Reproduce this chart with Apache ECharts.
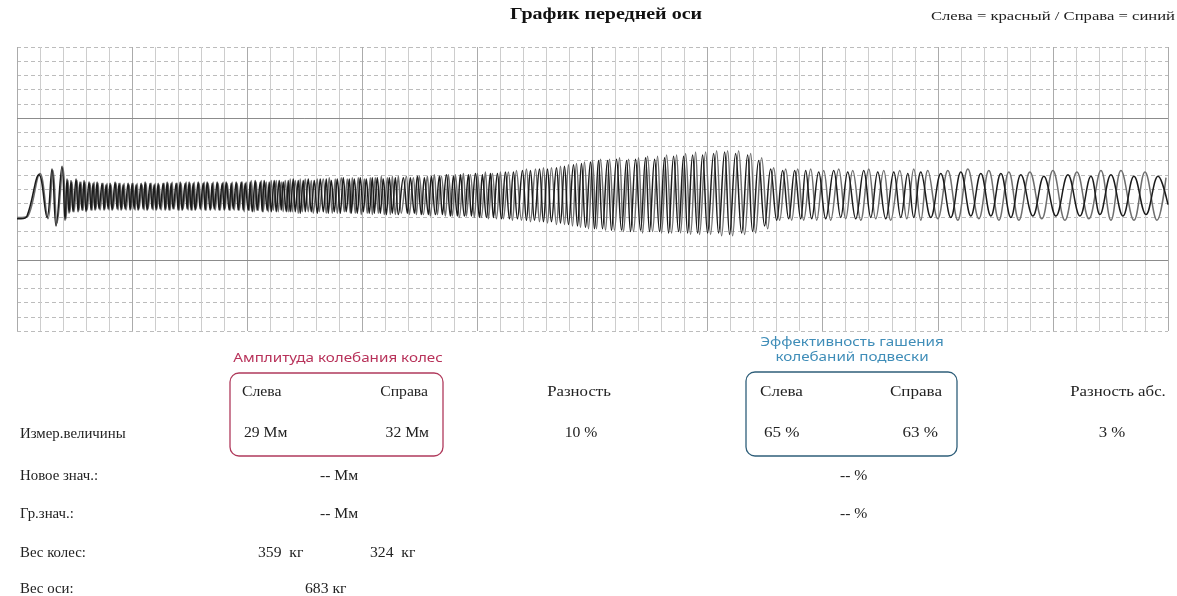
<!DOCTYPE html>
<html>
<head>
<meta charset="utf-8">
<script src="https://cdn.jsdelivr.net/npm/echarts@6/dist/echarts.min.js"></script>
<style>
  html, body { margin: 0; padding: 0; background: #fff; }
  #frontAxle { width: 1177px; height: 596px; }
</style>
</head>
<body>
<div id="frontAxle"></div>
<script>
// turning points of the traces, [time, amplitude]
const leftWheel = [
  [0,-21],[4,-21],[10,-19],[22,10],[30,-20],[35,14],[39,-26],[45,16],[48,-22],
  [50,7],[52,-17],[54,6],[56,-16],[59,7],[61,-16],[63,5],[65,-15],[67,6],[69,-16],
  [72,5],[74,-15],[76,4],[78,-15],[80,5],[82,-14],[85,4],[87,-15],[89,3],[91,-14],
  [93,4],[95,-15],[98,5],[100,-14],[102,4],[104,-15],[106,3],[108,-14],[111,4],[113,-15],
  [115,4],[117,-14],[119,3],[121,-15],[124,4],[126,-14],[128,5],[130,-15],[133,4],[135,-14],
  [137,3],[139,-15],[141,4],[143,-14],[146,4],[148,-15],[150,5],[152,-15],[154,4],[156,-14],
  [159,4],[161,-15],[163,5],[165,-15],[168,4],[170,-14],[172,5],[174,-15],[176,4],[178,-15],
  [181,5],[183,-14],
  [186,4],[188,-15],[190,5],[193,-15],[195,4],[197,-14],[200,5],[202,-15],[205,4],[207,-15],
  [209,5],[212,-15],[214,4],[216,-14],[219,5],[221,-15],[224,5],[226,-15],[228,4],[231,-15],
  [233,5],[235,-16],[238,6],[240,-15],[243,5],[245,-16],[247,6],[250,-15],[252,5],[254,-16],
  [257,6],[259,-16],[262,6],[264,-15],[266,5],[269,-16],[271,6],[273,-16],[276,7],[278,-16],
  [281,6],[283,-17],
  [286,6],[288,-16],[291,7],[294,-16],[297,6],[300,-17],[303,7],[306,-16],[309,7],[311,-17],
  [314,6],[317,-16],[320,7],[323,-17],[326,8],[329,-16],[332,7],[334,-17],[337,7],[340,-17],
  [343,8],[346,-16],[349,7],[352,-17],[355,8],[357,-17],[360,8],[363,-17],[366,7],[369,-18],
  [372,8],[375,-17],[378,8],[381,-18],
  [386,8],[390,-17],[393,8],[397,-17],[400,9],[404,-18],[407,8],[411,-18],[414,9],[418,-18],
  [422,9],[425,-18],[429,10],[433,-19],[436,9],[440,-19],[443,10],[447,-19],[451,10],[454,-19],
  [458,11],[462,-20],[465,10],[469,-20],[473,11],[476,-20],[480,11],[484,-21],
  [488,12],[492,-21],[496,12],[500,-21],[505,13],[509,-22],[513,13],[517,-22],[522,14],[526,-23],
  [530,14],[534,-23],[539,15],[543,-24],[547,16],[551,-25],[556,17],[560,-26],[564,18],[568,-27],
  [573,19],[577,-28],[581,20],[585,-28],
  [590,20],[594,-29],[599,21],[604,-29],[609,20],[613,-30],[618,21],[623,-29],[628,22],[632,-30],
  [637,21],[642,-30],[647,22],[651,-31],[656,23],[661,-30],[666,23],[670,-31],[675,24],[680,-31],
  [685,24],[690,-31],[696,25],[701,-31],[707,26],[712,-32],[718,25],[724,-31],[730,24],[735,-30],
  [741,20],[747,-26],[753,14],[759,-22],[765,13],[771,-21],[777,13],[783,-21],
  [788,13],[794,-21],[801,12],[808,-21],[816,13],[823,-20],[830,12],[838,-21],[846,13],[853,-20],
  [860,12],[868,-21],[876,12],[883,-20],[890,11],[896,-20],[903,12],[913,-20],[923,11],[933,-20],
  [943,12],[953,-19],[963,11],[973,-19],[983,11],[993,-20],
  [1003,10],[1015,-19],[1026,9],[1038,-19],[1050,10],[1062,-19],[1073,9],[1082,-18],[1093,10],[1105,-19],
  [1116,9],[1128,-18],[1140,9],[1150,-11]
];
const rightWheel = [
  [0,-20],[5,-20],[11,-19],[23,11],[31,-21],[36,13],[40,-24],[46,15],[49,-21],
  [51,6],[53,-16],[55,5],[57,-16],[60,6],[62,-15],[64,5],[66,-15],[68,5],[70,-15],
  [73,4],[75,-15],[77,5],[79,-14],[81,4],[83,-15],[86,4],[88,-14],[90,4],[92,-15],
  [94,3],[96,-14],[99,4],[101,-15],[103,4],[105,-14],[107,4],[109,-15],[112,3],[114,-14],
  [116,4],[118,-15],[120,4],[122,-14],[125,3],[127,-15],[129,4],[131,-14],[134,4],[136,-15],
  [138,4],[140,-14],[142,3],[144,-15],[147,4],[149,-14],[151,4],[153,-15],[155,5],[157,-14],
  [160,4],[162,-15],[164,4],[166,-14],[169,5],[171,-15],[173,4],[175,-15],[177,5],[179,-14],
  [182,4],[184,-15],
  [187,5],[189,-15],[191,4],[194,-14],[196,5],[198,-15],[201,4],[203,-15],[206,5],[208,-14],
  [210,4],[213,-15],[215,5],[217,-15],[220,4],[222,-15],[225,5],[227,-16],[229,5],[232,-15],
  [234,6],[237,-16],[239,5],[241,-15],[244,6],[246,-16],[249,5],[251,-16],[254,6],[256,-15],
  [259,6],[261,-16],[264,5],[266,-16],[268,6],[271,-16],[273,7],[275,-16],[278,6],[281,-17],
  [283,7],[285,-16],
  [288,7],[291,-16],[294,6],[296,-17],[300,7],[302,-16],[306,7],[309,-17],[312,8],[315,-17],
  [318,7],[320,-17],[324,8],[327,-16],[330,7],[333,-17],[335,8],[338,-17],[341,8],[344,-18],
  [347,7],[350,-17],[353,8],[355,-18],[358,8],[361,-17],[364,9],[367,-18],[370,8],[373,-18],
  [375,9],[378,-18],[381,9],[384,-17],
  [389,9],[392,-18],[396,8],[399,-18],[402,9],[406,-18],[410,9],[413,-19],[417,10],[420,-18],
  [424,9],[428,-19],[431,10],[435,-19],[438,10],[442,-20],[446,11],[449,-19],[453,10],[457,-20],
  [460,11],[464,-20],[468,12],[471,-21],[475,11],[479,-21],[483,12],[486,-21],
  [491,12],[495,-22],[499,13],[504,-22],[509,14],[513,-23],[518,14],[522,-23],[526,15],[530,-24],
  [534,15],[539,-25],[543,16],[547,-25],[551,17],[555,-26],[559,18],[563,-27],[567,19],[571,-28],
  [575,20],[579,-28],[583,21],[588,-29],
  [592,21],[597,-29],[602,22],[606,-30],[611,21],[616,-30],[621,22],[625,-31],[630,23],[635,-30],
  [640,23],[644,-31],[649,24],[654,-31],[659,24],[663,-31],[668,25],[673,-32],[678,26],[682,-32],
  [688,26],[693,-32],[699,27],[704,-33],[710,27],[715,-33],[721,27],[727,-32],[733,25],[738,-31],
  [744,22],[750,-28],[756,15],[762,-22],[768,14],[774,-22],[780,14],[786,-22],
  [793,14],[799,-22],[806,13],[813,-22],[821,14],[828,-21],[835,13],[843,-22],[851,14],[858,-21],
  [866,13],[873,-22],[882,13],[889,-21],[896,14],[903,-22],[910,13],[920,-21],[930,13],[940,-22],
  [950,14],[961,-21],[971,13],[981,-22],[991,12],[1001,-22],
  [1012,12],[1024,-21],[1035,13],[1047,-22],[1059,12],[1071,-21],[1083,13],[1093,-22],[1103,13],[1116,-22],
  [1127,12],[1139,-22],[1148,8]
];

// table under the graph
const rowLabels = ['Измер.величины', 'Новое знач.:', 'Гр.знач.:', 'Вес колес:', 'Вес оси:'];
const amplitudeMm = [29, 32];
const amplitudeDiff = 10;
const efficiencyPct = [65, 63];
const efficiencyDiff = 3;
const wheelWeightKg = [359, 324];
const axleWeightKg = 683;

const myChart = echarts.init(document.getElementById('frontAxle'));

const serif = 'Liberation Serif, Times New Roman, serif';
const sans = 'Noto Sans, sans-serif';
const rowY = [434, 476, 514, 553, 589];
function txt(x, y, text, opts) {
  opts = opts || {};
  return {
    type: 'text', x: x, y: y, silent: true,
    scaleX: opts.sx || 1.12,
    style: {
      text: text,
      font: opts.font || ('14px ' + serif),
      fill: opts.fill || '#222',
      textAlign: opts.align || 'left',
      textVerticalAlign: 'middle'
    }
  };
}

let graphic = [
  txt(606, 15, 'График передней оси', { font: 'bold 16px ' + serif, align: 'center', fill: '#111', sx: 1.25 }),
  txt(1175, 17, 'Слева = красный / Справа = синий', { font: '13px ' + serif, align: 'right', sx: 1.28 }),
  txt(338, 358, 'Амплитуда колебания колес', { font: '13px ' + sans, align: 'center', fill: '#b8325a', sx: 1.17 }),
  txt(852, 342, 'Эффективность гашения', { font: '13px ' + sans, align: 'center', fill: '#3f8db8', sx: 1.17 }),
  txt(852, 357, 'колебаний подвески', { font: '13px ' + sans, align: 'center', fill: '#3f8db8', sx: 1.17 }),
  {
    type: 'rect', silent: true,
    shape: { x: 230, y: 373, width: 213, height: 83, r: 9 },
    style: { fill: 'none', stroke: '#b03a5c', lineWidth: 1.3 }
  },
  {
    type: 'rect', silent: true,
    shape: { x: 746, y: 372, width: 211, height: 84, r: 9 },
    style: { fill: 'none', stroke: '#2f5f7a', lineWidth: 1.3 }
  },
  txt(242, 392, 'Слева'),
  txt(428, 392, 'Справа', { align: 'right' }),
  txt(244, 433, amplitudeMm[0] + ' Мм'),
  txt(429, 433, amplitudeMm[1] + ' Мм', { align: 'right' }),
  txt(579, 392, 'Разность', { align: 'center', sx: 1.2 }),
  txt(581, 433, amplitudeDiff + ' %', { align: 'center' }),
  txt(760, 392, 'Слева', { sx: 1.22 }),
  txt(942, 392, 'Справа', { align: 'right', sx: 1.22 }),
  txt(764, 433, efficiencyPct[0] + ' %', { sx: 1.22 }),
  txt(938, 433, efficiencyPct[1] + ' %', { align: 'right', sx: 1.22 }),
  txt(1118, 392, 'Разность абс.', { align: 'center', sx: 1.2 }),
  txt(1112, 433, efficiencyDiff + ' %', { align: 'center', sx: 1.2 }),
  txt(320, rowY[1], '-- Мм'),
  txt(320, rowY[2], '-- Мм'),
  txt(840, rowY[1], '-- %'),
  txt(840, rowY[2], '-- %'),
  txt(258, rowY[3], wheelWeightKg[0] + '  кг'),
  txt(370, rowY[3], wheelWeightKg[1] + '  кг'),
  txt(305, rowY[4], axleWeightKg + ' кг')
];
rowLabels.forEach(function (label, i) {
  graphic.push(txt(20, rowY[i], label, { sx: 1.06 }));
});

const hidden = { show: false };
let option = {
  backgroundColor: '#fff',
  animation: false,
  grid: { left: 17, right: 9, top: 47, bottom: 265 },
  xAxis: [
    {
      type: 'value', min: 0, max: 1150, interval: 23,
      axisLine: hidden, axisTick: hidden, axisLabel: hidden,
      splitLine: { lineStyle: { color: '#cdcdcd', width: 1 } }
    },
    {
      type: 'value', min: 0, max: 1150, interval: 115,
      axisLine: hidden, axisTick: hidden, axisLabel: hidden,
      splitLine: { lineStyle: { color: '#ababab', width: 1 } }
    }
  ],
  yAxis: {
    type: 'value', min: -100, max: 100, interval: 10,
    axisLine: hidden, axisTick: hidden, axisLabel: hidden,
    splitLine: { lineStyle: { color: '#bcbcbc', width: 1, type: [4, 3] } }
  },
  graphic: graphic,
  series: [
    {
      name: 'Справа', type: 'line', xAxisIndex: 0,
      data: rightWheel, showSymbol: false, smooth: 0.4,
      lineStyle: { color: '#6e6e6e', width: 1.5 },
      markLine: {
        silent: true, symbol: 'none', label: hidden,
        lineStyle: { color: '#8c8c8c', width: 1, type: 'solid' },
        data: [{ yAxis: 50 }, { yAxis: -50 }]
      }
    },
    {
      name: 'Слева', type: 'line', xAxisIndex: 0,
      data: leftWheel, showSymbol: false, smooth: 0.4,
      lineStyle: { color: '#1b1b1b', width: 1.5 }
    }
  ]
};
myChart.setOption(option);
</script>
</body>
</html>
